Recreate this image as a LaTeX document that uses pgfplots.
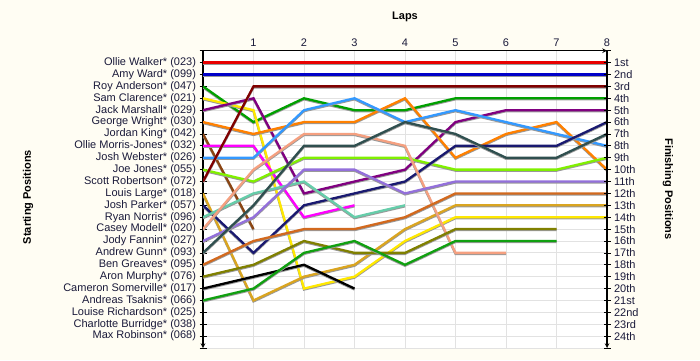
\documentclass[border=0pt]{standalone}
\usepackage{fontspec}
\setmainfont{Liberation Sans}
\usepackage{pgfplots}
\pgfplotsset{compat=1.18}
\definecolor{bgcol}{HTML}{FFFDF3}
\definecolor{txtcol}{HTML}{1A1A3A}
\definecolor{gridcol}{HTML}{E2E2E2}
\definecolor{cRed}{HTML}{E80000}
\definecolor{cBlue}{HTML}{0000C8}
\definecolor{cGreen}{HTML}{00A000}
\definecolor{cYellow}{HTML}{FFE800}
\definecolor{cPurple}{HTML}{800080}
\definecolor{cOrange}{HTML}{FF8000}
\definecolor{cBrown}{HTML}{8B4513}
\definecolor{cMagenta}{HTML}{FF00FF}
\definecolor{cLBlue}{HTML}{3399FF}
\definecolor{cLime}{HTML}{80F000}
\definecolor{cMaroon}{HTML}{800000}
\definecolor{cGold}{HTML}{DAA520}
\definecolor{cNavy}{HTML}{191970}
\definecolor{cAqua}{HTML}{66CDAA}
\definecolor{cSalmon}{HTML}{F5A080}
\definecolor{cMPurple}{HTML}{9370DB}
\definecolor{cSlate}{HTML}{2F4F4F}
\definecolor{cChoc}{HTML}{D2691E}
\definecolor{cOlive}{HTML}{808000}
\definecolor{cGreenB}{HTML}{10A010}
\begin{document}
\begin{tikzpicture}[x=1pt,y=1pt]
\useasboundingbox (0,0) rectangle (700,360);
\fill[bgcol] (0,0) rectangle (700,360);
\pgfplotsset{
  every axis/.append style={
    scale only axis, width=404pt, height=297.3pt,
    at={(203pt,12pt)}, anchor=south west,
    xmin=0, xmax=8, ymin=0, ymax=25, y dir=reverse,
    ytick={0,...,25},
    tick align=outside, major tick length=7pt,
    axis line style={-, black, line width=1.1pt},
    ytick style={black, line width=0.7pt},
    tick label style={font=\fontsize{11}{13}\selectfont, text=txtcol},
    /pgf/number format/assume math mode=true,
  },
  lap/.style={line width=2.3pt, preaction={draw=black!40, line width=2.3pt, transform canvas={yshift=-1pt}}},
}
\begin{axis}[
  axis background/.style={fill=white},
  axis x line=top, axis y line=left,
  xtick={1,...,8}, xtick style={draw=none},
  xticklabel style={yshift=-3pt},
  grid=major, grid style={gridcol, line width=0.8pt},
  yticklabels={{},Ollie Walker* (023),Amy Ward* (099),Roy Anderson* (047),Sam Clarence* (021),Jack Marshall* (029),George Wright* (030),Jordan King* (042),Ollie Morris-Jones* (032),Josh Webster* (026),Joe Jones* (055),Scott Robertson* (072),Louis Large* (018),Josh Parker* (057),Ryan Norris* (096),Casey Modell* (020),Jody Fannin* (027),Andrew Gunn* (093),Ben Greaves* (095),Aron Murphy* (076),Cameron Somerville* (017),Andreas Tsaknis* (066),Louise Richardson* (025),Charlotte Burridge* (038),Max Robinson* (068),{}},
]
\addplot[lap, cRed] coordinates {(0,1)(1,1)(2,1)(3,1)(4,1)(5,1)(6,1)(7,1)(8,1)};
\addplot[lap, cBlue] coordinates {(0,2)(1,2)(2,2)(3,2)(4,2)(5,2)(6,2)(7,2)(8,2)};
\addplot[lap, cGreen] coordinates {(0,3)(1,6)(2,4)(3,5)(4,5)(5,4)(6,4)(7,4)(8,4)};
\addplot[lap, cYellow] coordinates {(0,4)(1,5)(2,20)(3,19)(4,16)(5,14)(6,14)(7,14)(8,14)};
\addplot[lap, cPurple] coordinates {(0,5)(1,4)(2,12)(3,11)(4,10)(5,6)(6,5)(7,5)(8,5)};
\addplot[lap, cOrange] coordinates {(0,6)(1,7)(2,6)(3,6)(4,4)(5,9)(6,7)(7,6)(8,10)};
\addplot[lap, cBrown] coordinates {(0,7)(1,15)};
\addplot[lap, cMagenta] coordinates {(0,8)(1,8)(2,14)(3,13)};
\addplot[lap, cLBlue] coordinates {(0,9)(1,9)(2,5)(3,4)(4,6)(5,5)(6,6)(7,7)(8,8)};
\addplot[lap, cLime] coordinates {(0,10)(1,11)(2,9)(3,9)(4,9)(5,10)(6,10)(7,10)(8,9)};
\addplot[lap, cMaroon] coordinates {(0,11)(1,3)(2,3)(3,3)(4,3)(5,3)(6,3)(7,3)(8,3)};
\addplot[lap, cGold] coordinates {(0,12)(1,21)(2,19)(3,18)(4,15)(5,13)(6,13)(7,13)(8,13)};
\addplot[lap, cNavy] coordinates {(0,13)(1,17)(2,13)(3,12)(4,11)(5,8)(6,8)(7,8)(8,6)};
\addplot[lap, cAqua] coordinates {(0,14)(1,12)(2,11)(3,14)(4,13)};
\addplot[lap, cSalmon] coordinates {(0,15)(1,10)(2,7)(3,7)(4,8)(5,17)(6,17)};
\addplot[lap, cMPurple] coordinates {(0,16)(1,14)(2,10)(3,10)(4,12)(5,11)(6,11)(7,11)(8,11)};
\addplot[lap, cSlate] coordinates {(0,17)(1,13)(2,8)(3,8)(4,6)(5,7)(6,9)(7,9)(8,7)};
\addplot[lap, cChoc] coordinates {(0,18)(1,16)(2,15)(3,15)(4,14)(5,12)(6,12)(7,12)(8,12)};
\addplot[lap, cOlive] coordinates {(0,19)(1,18)(2,16)(3,17)(4,17)(5,15)(6,15)(7,15)};
\addplot[lap, black] coordinates {(0,20)(1,19)(2,18)(3,20)};
\addplot[lap, cGreenB] coordinates {(0,21)(1,20)(2,17)(3,16)(4,18)(5,16)(6,16)(7,16)};
\end{axis}
\begin{axis}[
  axis y line=right, hide x axis,
  yticklabels={{},1st,2nd,3rd,4th,5th,6th,7th,8th,9th,10th,11th,12th,13th,14th,15th,16th,17th,18th,19th,20th,21st,22nd,23rd,24th,{}},
]
\end{axis}
\node[font=\bfseries\fontsize{11}{13}\selectfont] at (405,343) {Laps};
\node[font=\bfseries\fontsize{11}{13}\selectfont, rotate=90] at (28,163) {Starting Positions};
\node[font=\bfseries\fontsize{11}{13}\selectfont, rotate=-90] at (668,171) {Finishing Positions};
\end{tikzpicture}
\end{document}
